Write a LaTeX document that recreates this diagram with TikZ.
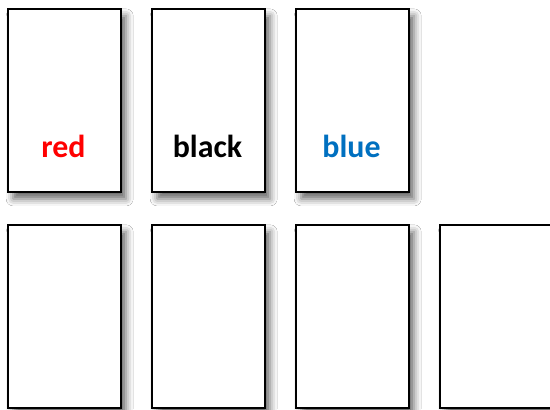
\documentclass[tikz,border=0pt]{standalone}
\usepackage{fontspec}
\setmainfont{Carlito}
\usetikzlibrary{shadows.blur}
\definecolor{offblue}{RGB}{0,112,192}
\tikzset{
  card/.style={draw=black, fill=white, line width=2.4bp, rectangle, anchor=north west,
    minimum width=113bp, minimum height=183bp, inner sep=0pt,
    blur shadow={shadow xshift=5bp, shadow yshift=-7bp, shadow blur radius=7bp, shadow opacity=60}},
  lbl/.style={font=\fontsize{32}{38}\selectfont\bfseries, anchor=base, inner sep=0pt}
}
\begin{document}
\begin{tikzpicture}[x=1bp,y=1bp]
\clip (0,0) rectangle (550,-409);
\fill[white] (0,0) rectangle (550,-409);
\node[card] (c1) at (7,-7.7) {};
\node[card] (c2) at (151,-7.7) {};
\node[card] (c3) at (295,-7.7) {};
\node[card] (d1) at (7,-223.6) {};
\node[card] (d2) at (151,-223.6) {};
\node[card] (d3) at (295,-223.6) {};
\node[card] (d4) at (439,-223.6) {};
\node[lbl, text=red] (t1) at (63.5,-157) {red};
\node[lbl, text=black] (t2) at (207.5,-157) {black};
\node[lbl, text=offblue] (t3) at (351.5,-157) {blue};
\end{tikzpicture}
\end{document}
